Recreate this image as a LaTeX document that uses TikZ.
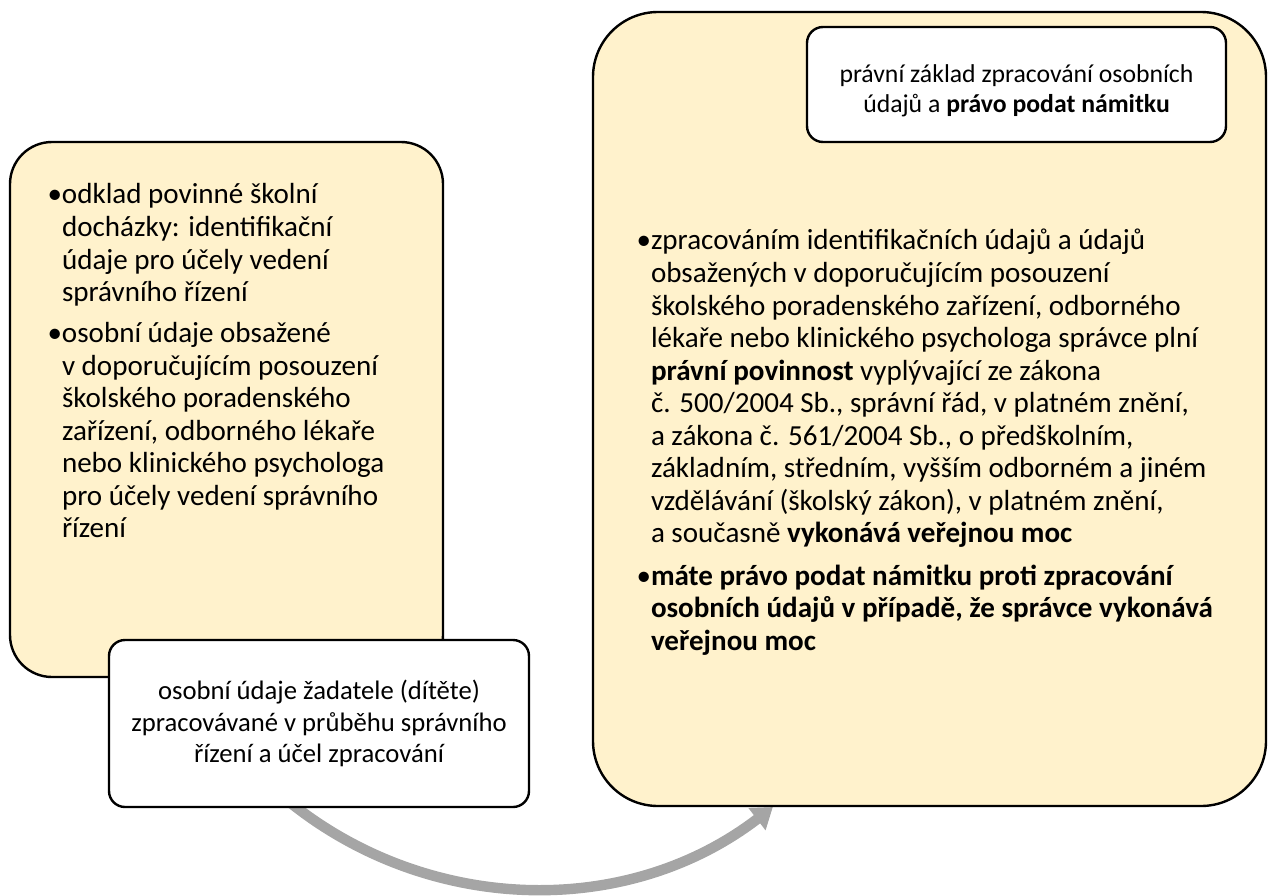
\documentclass[tikz,border=0pt]{standalone}
\usepackage{fontspec}
\setmainfont{Carlito}
\usetikzlibrary{arrows.meta}
\definecolor{boxfill}{HTML}{FFF2CC}
\definecolor{arrowgrey}{HTML}{A5A5A5}
\begin{document}
\begin{tikzpicture}[x=0.75pt,y=-0.75pt,
  bigbox/.style={draw=black, line width=1.8pt, fill=boxfill, inner sep=0pt, outer sep=0pt, anchor=north west},
  whitebox/.style={draw=black, line width=1.8pt, fill=white, inner sep=0pt, outer sep=0pt, rounded corners=12pt, align=center, text=black},
  bodytxt/.style={anchor=north west, inner sep=0pt, outer sep=0pt, align=left, text=black, font=\fontsize{21.8}{24.4}\selectfont},
  bigarrow/.style={draw=arrowgrey, line width=7.8pt, -{Triangle[width=20pt,length=15pt]}}
]
\useasboundingbox (0,0) rectangle (1268,896);

% grey curved arrow (partly hidden under the lower white box)
\coordinate (arrS) at (234.5,748.1);
\draw[bigarrow] (arrS) arc[start angle=140, end angle=52.5, radius=391.6];

% large rounded boxes
\node[bigbox, rounded corners=31.5pt, minimum width=324.75pt, minimum height=401.25pt] (L) at (10,142) {};
\node[bigbox, rounded corners=48.75pt, minimum width=504.75pt, minimum height=595.5pt] (R) at (593,12) {};

% texts of the large boxes
\node[bodytxt] (Ltext) at (62,177.3) {\rule{0pt}{20pt}\llap{•}odklad povinné školní\\
docházky: identifikační\\
údaje pro účely vedení\\
správního řízení\\[6.5pt]
\llap{•}osobní údaje obsažené\\
v doporučujícím posouzení\\
školského poradenského\\
zařízení, odborného lékaře\\
nebo klinického psychologa\\
pro účely vedení správního\\
řízení};

\node[bodytxt] (Rtext) at (651,223.3) {\rule{0pt}{20pt}\llap{•}zpracováním identifikačních údajů a údajů\\
obsažených v doporučujícím posouzení\\
školského poradenského zařízení, odborného\\
lékaře nebo klinického psychologa správce plní\\
\textbf{právní povinnost} vyplývající ze zákona\\
č. 500/2004 Sb., správní řád, v platném znění,\\
a zákona č. 561/2004 Sb., o předškolním,\\
základním, středním, vyšším odborném a jiném\\
vzdělávání (školský zákon), v platném znění,\\
a současně \textbf{vykonává veřejnou moc}\\[7.5pt]
\llap{•}\textbf{máte právo podat námitku proti zpracování}\\
\textbf{osobních údajů v případě, že správce vykonává}\\
\textbf{veřejnou moc}};

% white title boxes
\node[whitebox, minimum width=314.25pt, minimum height=86.25pt] (T) at (1016.5,84.5) {};
\node[align=center, inner sep=0pt, text=black, font=\fontsize{19.3}{22.5}\selectfont] (Ttext) at (1016.5,91) {právní základ zpracování osobních\\ údajů a \textbf{právo podat námitku}};
\node[whitebox, minimum width=315pt, minimum height=125.25pt, font=\fontsize{20}{23.6}\selectfont] (B) at (319,723.5) {osobní údaje žadatele (dítěte)\\ zpracovávané v průběhu správního\\ řízení a účel zpracování};
\end{tikzpicture}
\end{document}
